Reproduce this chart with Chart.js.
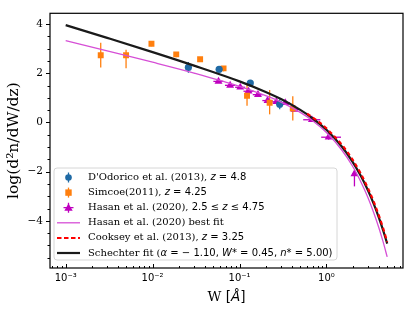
<!DOCTYPE html>
<html>
<head>
<meta charset="utf-8">
<script src="https://cdn.jsdelivr.net/npm/chart.js@4.4.1/dist/chart.umd.min.js"></script>
<style>
  html, body { margin: 0; padding: 0; background: #fff; }
  #wrap { width: 415px; height: 312px; }
</style>
</head>
<body>
<div id="wrap"><canvas id="MgChart" width="415" height="312"></canvas></div>
<script>
// --- data ---
var dodW = [0.0258, 0.0583, 0.133, 0.29];
var dodY = [2.24, 2.16, 1.60, 0.74];
var dodErr = [0.22, 0.08, 0.08, 0.2];

var simW = [0.00253, 0.00495, 0.0097, 0.0187, 0.0352, 0.0655, 0.122, 0.222, 0.41];
var simY = [2.73, 2.73, 3.20, 2.77, 2.57, 2.20, 1.09, 0.80, 0.57];
var simErrLo = [0.49, 0.53, 0.1, 0.12, 0.1, 0.12, 0.41, 0.47, 0.49];
var simErrHi = [0.51, 0.23, 0.1, 0.1, 0.08, 0.08, 0.51, 0.52, 0.50];

var hasW = [0.0573, 0.078, 0.102, 0.127, 0.163, 0.21, 0.265, 0.336, 0.43, 0.68, 1.06, 2.1];
var hasY = [1.67, 1.51, 1.43, 1.27, 1.13, 0.89, 0.84, 0.80, 0.53, 0.11, -0.60, -2.09];
var hasWlo = [0.05, 0.068, 0.089, 0.111, 0.142, 0.183, 0.232, 0.294, 0.38, 0.54, 0.87, 1.98];
var hasWhi = [0.065, 0.089, 0.116, 0.145, 0.186, 0.24, 0.30, 0.38, 0.49, 0.85, 1.47, 2.22];
var hasErrLo = [0.06, 0.06, 0.06, 0.06, 0.06, 0.06, 0.06, 0.06, 0.08, 0.08, 0.1, 0.51];
var hasErrHi = [0.06, 0.06, 0.06, 0.06, 0.06, 0.06, 0.06, 0.06, 0.08, 0.08, 0.1, 0.13];

var fitW = [0.001, 0.003, 0.01, 0.03, 0.1, 0.2, 0.3, 0.5, 0.7, 1.0, 1.5, 2.0, 2.5, 3.0, 3.5, 4.0, 4.5, 5.0];
var schechterY = [3.96, 3.44, 2.86, 2.31, 1.67, 1.24, 0.95, 0.51, 0.16, -0.30, -0.98, -1.60, -2.19, -2.76, -3.31, -3.86, -4.40, -4.93];
var hasanFitY = [3.33, 2.91, 2.45, 2.01, 1.47, 1.09, 0.83, 0.41, 0.06, -0.41, -1.12, -1.78, -2.43, -3.05, -3.67, -4.27, -4.87, -5.47];

var cookW = [0.6, 0.8, 1.0, 1.5, 2.0, 2.5, 3.0, 3.5, 4.0, 4.5, 5.0];
var cookY = [0.36, 0.05, -0.24, -0.90, -1.51, -2.10, -2.67, -3.22, -3.77, -4.31, -4.86];

var xDecadeLabels = {'-3': '10⁻³', '-2': '10⁻²', '-1': '10⁻¹', '0': '10⁰'};
var yTicks = [-4, -2, 0, 2, 4];

var BLUE = '#1f6aa5', ORANGE = '#ff7f0e', MAG = '#bf00bf', MAGLINE = '#d64fd6';

function pts(xs, ys) { return xs.map(function (x, i) { return {x: x, y: ys[i]}; }); }

// error bars, drawn under the markers
var errorBars = {
  id: 'errorBars',
  beforeDatasetsDraw: function (chart) {
    var ctx = chart.ctx, xs = chart.scales.x, ys = chart.scales.y;
    ctx.save();
    ctx.lineWidth = 1.3;
    function vbar(w, lo, hi, col) {
      var px = xs.getPixelForValue(w);
      ctx.strokeStyle = col;
      ctx.beginPath(); ctx.moveTo(px, ys.getPixelForValue(lo)); ctx.lineTo(px, ys.getPixelForValue(hi)); ctx.stroke();
    }
    function hbar(y, lo, hi, col) {
      var py = ys.getPixelForValue(y);
      ctx.strokeStyle = col;
      ctx.beginPath(); ctx.moveTo(xs.getPixelForValue(lo), py); ctx.lineTo(xs.getPixelForValue(hi), py); ctx.stroke();
    }
    dodW.forEach(function (w, i) { vbar(w, dodY[i] - dodErr[i], dodY[i] + dodErr[i], BLUE); });
    simW.forEach(function (w, i) { vbar(w, simY[i] - simErrLo[i], simY[i] + simErrHi[i], ORANGE); });
    hasW.forEach(function (w, i) {
      vbar(w, hasY[i] - hasErrLo[i], hasY[i] + hasErrHi[i], MAG);
      hbar(hasY[i], hasWlo[i], hasWhi[i], MAG);
    });
    ctx.restore();
  }
};

// frame, tick marks, axis titles and the legend
var decor = {
  id: 'decor',
  afterDraw: function (chart) {
    var ctx = chart.ctx, a = chart.chartArea, xs = chart.scales.x, ys = chart.scales.y;
    ctx.save();
    ctx.strokeStyle = '#000';
    ctx.lineWidth = 1.2;
    ctx.strokeRect(a.left, a.top, a.right - a.left, a.bottom - a.top);

    ctx.lineWidth = 1;
    ctx.beginPath();
    for (var e = -4; e <= 0; e++) {
      for (var m = 1; m <= 9; m++) {
        var v = m * Math.pow(10, e);
        if (v < xs.min || v > xs.max) continue;
        var px = Math.round(xs.getPixelForValue(v)) + 0.5;
        var len = m === 1 ? 4 : 2;
        ctx.moveTo(px, a.bottom); ctx.lineTo(px, a.bottom - len);
      }
    }
    for (var t = -5.5; t <= 4.01; t += 0.5) {
      var py = Math.round(ys.getPixelForValue(t)) + 0.5;
      var l2 = (Math.abs(t % 2) < 0.01) ? 4 : 2.5;
      ctx.moveTo(a.left, py); ctx.lineTo(a.left - l2, py);
    }
    ctx.stroke();

    // axis titles
    ctx.fillStyle = '#000';
    ctx.textBaseline = 'middle';
    ctx.save();
    ctx.translate(14, (a.top + a.bottom) / 2);
    ctx.rotate(-Math.PI / 2);
    ctx.textAlign = 'center';
    ctx.font = '15.5px "DejaVu Serif"';
    ctx.fillText('log(d²n/dW/dz)', 0, 0);
    ctx.restore();

    var xt = [['W ', '13.5px "DejaVu Serif"'], ['[', '13.5px "DejaVu Sans"'], ['Å', 'italic 13.5px "DejaVu Sans"'], [']', '13.5px "DejaVu Sans"']];
    var tw = 0;
    xt.forEach(function (p) { ctx.font = p[1]; tw += ctx.measureText(p[0]).width; });
    var cx = (a.left + a.right) / 2 - tw / 2;
    ctx.textAlign = 'left';
    xt.forEach(function (p) { ctx.font = p[1]; ctx.fillText(p[0], cx, 297); cx += ctx.measureText(p[0]).width; });

    // legend
    var lx = a.left + 4, ly = 168, lw = 283, lh = 92;
    ctx.beginPath();
    ctx.roundRect(lx, ly, lw, lh, 3);
    ctx.fillStyle = 'rgba(255,255,255,0.8)';
    ctx.fill();
    ctx.strokeStyle = '#d6d6d6';
    ctx.lineWidth = 1;
    ctx.stroke();

    var fonts = ['10px "DejaVu Serif"', 'italic 10px "DejaVu Sans"', '10px "DejaVu Sans"'];
    var rows = [
      [["D'Odorico et al. (2013), ", 0], ['z', 1], [' = 4.8', 2]],
      [['Simcoe(2011), ', 0], ['z', 1], [' = 4.25', 2]],
      [['Hasan et al. (2020), ', 0], ['2.5 ≤ ', 2], ['z', 1], [' ≤ 4.75', 2]],
      [['Hasan et al. (2020) best fit', 0]],
      [['Cooksey et al. (2013), ', 0], ['z', 1], [' = 3.25', 2]],
      [['Schechter fit (', 0], ['α', 1], [' = − 1.10, ', 2], ['W', 1], ['* = 0.45, ', 2], ['n', 1], ['* = 5.00)', 2]]
    ];
    var mx = lx + 14.5;
    rows.forEach(function (row, i) {
      var ry = ly + 9.5 + i * 15.1;
      ctx.lineWidth = 1.3;
      if (i === 0) {
        ctx.strokeStyle = BLUE; ctx.fillStyle = BLUE;
        ctx.beginPath(); ctx.moveTo(mx, ry - 5); ctx.lineTo(mx, ry + 5); ctx.stroke();
        ctx.beginPath(); ctx.arc(mx, ry, 3.3, 0, Math.PI * 2); ctx.fill();
      } else if (i === 1) {
        ctx.strokeStyle = ORANGE; ctx.fillStyle = ORANGE;
        ctx.beginPath(); ctx.moveTo(mx, ry - 5); ctx.lineTo(mx, ry + 5); ctx.stroke();
        ctx.fillRect(mx - 3.2, ry - 3.2, 6.4, 6.4);
      } else if (i === 2) {
        ctx.strokeStyle = MAG; ctx.fillStyle = MAG;
        ctx.beginPath(); ctx.moveTo(mx, ry - 5); ctx.lineTo(mx, ry + 5);
        ctx.moveTo(mx - 5, ry); ctx.lineTo(mx + 5, ry); ctx.stroke();
        ctx.beginPath(); ctx.moveTo(mx, ry - 4.2); ctx.lineTo(mx + 4.2, ry + 3); ctx.lineTo(mx - 4.2, ry + 3); ctx.closePath(); ctx.fill();
      } else {
        var c = [MAGLINE, 'red', '#1a1a1a'][i - 3];
        ctx.strokeStyle = c;
        ctx.lineWidth = [1.3, 2, 2.2][i - 3];
        ctx.setLineDash(i === 4 ? [4.5, 2.5] : []);
        ctx.beginPath(); ctx.moveTo(lx + 3, ry); ctx.lineTo(lx + 26, ry); ctx.stroke();
        ctx.setLineDash([]);
      }
      ctx.fillStyle = '#000';
      var tx = lx + 34;
      row.forEach(function (p) { ctx.font = fonts[p[1]]; ctx.fillText(p[0], tx, ry); tx += ctx.measureText(p[0]).width; });
    });
    ctx.restore();
  }
};

var lineDefaults = {showLine: true, pointRadius: 0, fill: false, cubicInterpolationMode: 'monotone'};

new Chart(document.getElementById('MgChart').getContext('2d'), {
  type: 'scatter',
  data: {
    datasets: [
      Object.assign({label: 'Cooksey et al. (2013)', data: pts(cookW, cookY), borderColor: 'red', borderWidth: 2.1, borderDash: [4, 3]}, lineDefaults),
      Object.assign({label: 'Schechter fit', data: pts(fitW, schechterY), borderColor: '#1a1a1a', borderWidth: 2.2}, lineDefaults),
      Object.assign({label: 'Hasan et al. (2020) best fit', data: pts(fitW, hasanFitY), borderColor: MAGLINE, borderWidth: 1.3}, lineDefaults),
      {label: "D'Odorico et al. (2013)", data: pts(dodW, dodY), pointStyle: 'circle', pointRadius: 3.6, backgroundColor: BLUE, borderColor: BLUE, borderWidth: 0},
      {label: 'Simcoe(2011)', data: pts(simW, simY), pointStyle: 'rect', pointRadius: 4.2, backgroundColor: ORANGE, borderColor: ORANGE, borderWidth: 0},
      {label: 'Hasan et al. (2020)', data: pts(hasW, hasY), pointStyle: 'triangle', pointRadius: 4.6, backgroundColor: MAG, borderColor: MAG, borderWidth: 0}
    ]
  },
  options: {
    responsive: false,
    animation: false,
    layout: {padding: {left: 0, right: 12, top: 9, bottom: 0}},
    scales: {
      x: {
        type: 'logarithmic',
        min: 6.6e-4,
        max: 7.6,
        grid: {display: false, drawTicks: false},
        border: {display: false},
        afterBuildTicks: function (s) {
          var t = [];
          for (var e = -3; e <= 0; e++) t.push({value: Math.pow(10, e)});
          s.ticks = t;
        },
        afterFit: function (s) { s.height = 44; },
        ticks: {
          autoSkip: false, maxRotation: 0, padding: 4, color: '#000',
          font: {family: 'DejaVu Sans', size: 10},
          callback: function (v) { return xDecadeLabels[String(Math.round(Math.log10(v)))] || ''; }
        }
      },
      y: {
        min: -5.92,
        max: 4.44,
        grid: {display: false, drawTicks: false},
        border: {display: false},
        afterBuildTicks: function (s) { s.ticks = yTicks.map(function (v) { return {value: v}; }); },
        afterFit: function (s) { s.width = 50; },
        ticks: {
          padding: 7, color: '#000',
          font: {family: 'DejaVu Serif', size: 10.5},
          callback: function (v) { return String(v).replace('-', '−'); }
        }
      }
    },
    plugins: {legend: {display: false}, tooltip: {enabled: false}}
  },
  plugins: [errorBars, decor]
});
</script>
</body>
</html>
